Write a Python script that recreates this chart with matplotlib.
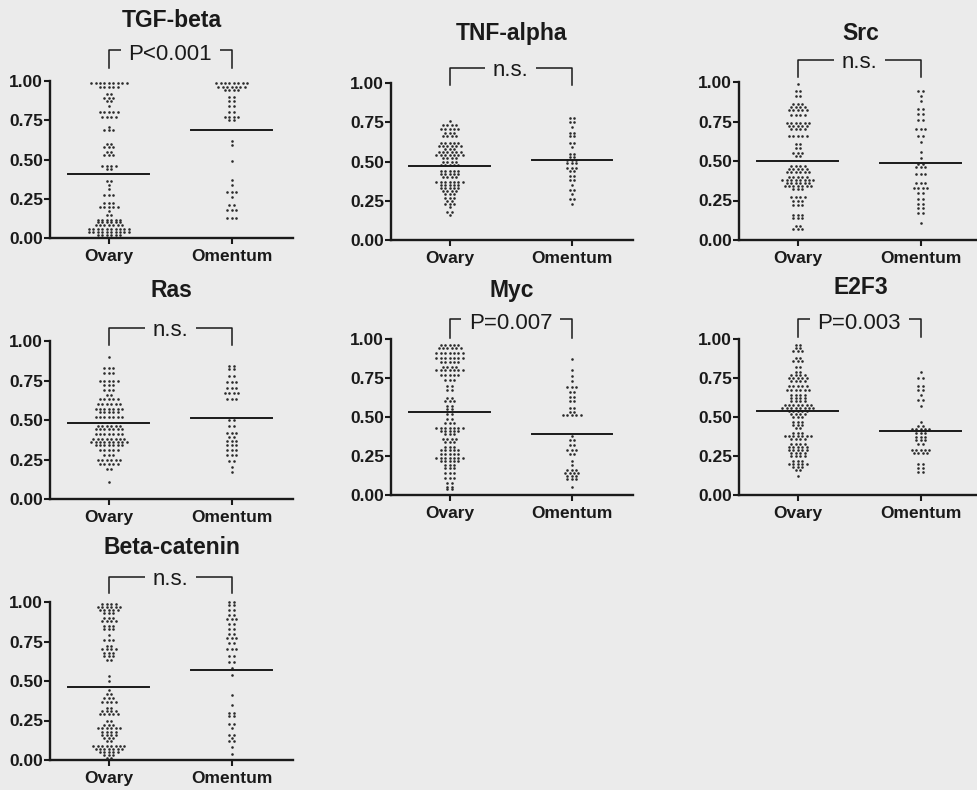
import numpy as np
import matplotlib
matplotlib.use('Agg')
import matplotlib.pyplot as plt

plt.rcParams['font.family'] = ['Liberation Sans', 'DejaVu Sans']

groups = ['Ovary', 'Omentum']
ytick_vals = [0.00, 0.25, 0.50, 0.75, 1.00]

titles = ['TGF-beta', 'TNF-alpha', 'Src', 'Ras', 'Myc', 'E2F3', 'Beta-catenin']
p_labels = ['P<0.001', 'n.s.', 'n.s.', 'n.s.', 'P=0.007', 'P=0.003', 'n.s.']
ovary_means = [0.41, 0.47, 0.50, 0.48, 0.53, 0.54, 0.46]
omentum_means = [0.69, 0.51, 0.49, 0.51, 0.39, 0.41, 0.57]

# each group: dot rows (level, number of dots in that row)
tgf_ov_lv = [0.99, 0.96, 0.92, 0.89, 0.87, 0.84, 0.80, 0.77, 0.71, 0.69, 0.60, 0.58, 0.55, 0.53, 0.46,
             0.44, 0.36, 0.34, 0.31, 0.275, 0.22, 0.20, 0.175, 0.145, 0.115, 0.10, 0.08, 0.06, 0.04, 0.02]
tgf_ov_ct = [9, 5, 2, 3, 2, 1, 5, 4, 1, 3, 2, 3, 2, 3, 4, 2, 2, 1, 1, 3, 3, 5, 1, 2, 6, 6, 7, 10, 10, 6]
tgf_om_lv = [0.99, 0.96, 0.94, 0.90, 0.87, 0.84, 0.80, 0.77, 0.75, 0.62, 0.59, 0.49, 0.37, 0.34, 0.29,
             0.26, 0.21, 0.18, 0.13]
tgf_om_ct = [8, 7, 4, 2, 2, 2, 2, 4, 2, 1, 1, 1, 1, 1, 3, 1, 2, 3, 3]

tnf_ov_lv = [0.76, 0.73, 0.71, 0.68, 0.66, 0.62, 0.60, 0.58, 0.56, 0.54, 0.52, 0.50, 0.48, 0.44, 0.42,
             0.40, 0.37, 0.35, 0.33, 0.31, 0.29, 0.27, 0.25, 0.23, 0.21, 0.18, 0.16]
tnf_ov_ct = [1, 4, 5, 3, 4, 5, 6, 3, 6, 7, 4, 4, 5, 5, 5, 4, 7, 5, 5, 4, 3, 3, 2, 3, 1, 2, 1]
tnf_om_lv = [0.78, 0.75, 0.72, 0.68, 0.66, 0.62, 0.59, 0.55, 0.53, 0.51, 0.49, 0.46, 0.44, 0.41, 0.38,
             0.35, 0.32, 0.29, 0.26, 0.23]
tnf_om_ct = [2, 2, 1, 2, 2, 2, 1, 2, 2, 3, 3, 3, 2, 2, 2, 1, 2, 1, 2, 1]

src_ov_lv = [0.99, 0.94, 0.91, 0.86, 0.84, 0.82, 0.79, 0.74, 0.72, 0.70, 0.66, 0.61, 0.58, 0.55, 0.53,
             0.47, 0.45, 0.43, 0.40, 0.38, 0.36, 0.34, 0.32, 0.27, 0.25, 0.22, 0.16, 0.14, 0.09, 0.07]
src_ov_ct = [1, 2, 2, 3, 4, 5, 4, 6, 5, 4, 5, 2, 2, 3, 2, 4, 5, 6, 5, 8, 6, 7, 3, 4, 3, 3, 3, 3, 2, 3]
src_om_lv = [0.94, 0.91, 0.88, 0.83, 0.80, 0.76, 0.70, 0.66, 0.62, 0.56, 0.52, 0.48, 0.46, 0.42, 0.36,
             0.33, 0.30, 0.26, 0.23, 0.20, 0.17, 0.11]
src_om_ct = [2, 1, 1, 2, 2, 2, 3, 2, 1, 1, 1, 2, 3, 3, 3, 4, 2, 2, 2, 2, 2, 1]

ras_ov_lv = [0.90, 0.83, 0.80, 0.75, 0.72, 0.69, 0.66, 0.63, 0.60, 0.57, 0.55, 0.52, 0.46, 0.44, 0.41,
             0.38, 0.36, 0.34, 0.31, 0.28, 0.25, 0.22, 0.19, 0.11]
ras_ov_ct = [1, 3, 3, 5, 3, 3, 2, 5, 6, 7, 5, 7, 6, 7, 7, 8, 9, 7, 5, 3, 6, 5, 2, 1]
ras_om_lv = [0.84, 0.82, 0.78, 0.74, 0.70, 0.67, 0.63, 0.50, 0.46, 0.42, 0.39, 0.37, 0.34, 0.31, 0.28,
             0.24, 0.20, 0.17]
ras_om_ct = [2, 2, 2, 3, 3, 4, 3, 2, 2, 3, 2, 3, 3, 3, 3, 2, 1, 1]

myc_ov_lv = [0.96, 0.94, 0.91, 0.88, 0.85, 0.82, 0.80, 0.77, 0.74, 0.70, 0.67, 0.62, 0.60, 0.57, 0.55,
             0.52, 0.49, 0.46, 0.43, 0.41, 0.39, 0.36, 0.34, 0.31, 0.29, 0.26, 0.24, 0.22, 0.19, 0.17,
             0.14, 0.11, 0.08, 0.05, 0.04]
myc_ov_ct = [5, 6, 7, 7, 5, 4, 7, 5, 3, 2, 2, 2, 3, 2, 2, 2, 2, 3, 7, 5, 3, 4, 3, 3, 5, 5, 7, 5, 3, 3,
             3, 3, 2, 2, 2]
myc_om_lv = [0.87, 0.80, 0.76, 0.73, 0.69, 0.66, 0.63, 0.60, 0.56, 0.53, 0.51, 0.38, 0.35, 0.32, 0.29,
             0.26, 0.22, 0.19, 0.16, 0.14, 0.12, 0.10, 0.05]
myc_om_ct = [1, 1, 1, 1, 3, 2, 2, 2, 2, 2, 5, 1, 2, 2, 3, 2, 1, 1, 3, 4, 3, 3, 1]

e2f3_ov_lv = [0.96, 0.94, 0.92, 0.88, 0.86, 0.82, 0.79, 0.77, 0.75, 0.73, 0.70, 0.67, 0.64, 0.62, 0.60,
              0.58, 0.56, 0.54, 0.52, 0.50, 0.47, 0.45, 0.43, 0.40, 0.38, 0.36, 0.33, 0.31, 0.29, 0.27,
              0.25, 0.22, 0.20, 0.18, 0.16, 0.12]
e2f3_ov_ct = [2, 2, 3, 2, 3, 2, 2, 4, 5, 4, 5, 6, 4, 4, 4, 7, 8, 5, 4, 3, 3, 3, 2, 3, 7, 4, 4, 5, 5, 4,
              4, 3, 5, 3, 2, 1]
e2f3_om_lv = [0.79, 0.75, 0.70, 0.67, 0.64, 0.61, 0.57, 0.47, 0.44, 0.42, 0.40, 0.37, 0.35, 0.33, 0.29,
              0.27, 0.20, 0.17, 0.15]
e2f3_om_ct = [1, 2, 2, 2, 1, 2, 1, 1, 2, 5, 3, 3, 3, 2, 5, 4, 2, 2, 2]

bcat_ov_lv = [0.99, 0.97, 0.95, 0.93, 0.90, 0.88, 0.85, 0.83, 0.79, 0.76, 0.72, 0.70, 0.68, 0.66, 0.63,
              0.53, 0.50, 0.44, 0.42, 0.39, 0.37, 0.33, 0.31, 0.29, 0.25, 0.22, 0.20, 0.18, 0.16, 0.14,
              0.12, 0.09, 0.07, 0.05, 0.03, 0.01]
bcat_ov_ct = [4, 6, 5, 3, 3, 4, 3, 3, 1, 3, 2, 4, 3, 3, 2, 1, 1, 1, 2, 3, 4, 2, 4, 5, 2, 3, 6, 4, 4, 3,
              2, 8, 7, 5, 3, 2]
bcat_om_lv = [1.00, 0.98, 0.95, 0.92, 0.89, 0.86, 0.83, 0.80, 0.77, 0.74, 0.70, 0.66, 0.62, 0.58, 0.54,
              0.41, 0.35, 0.30, 0.28, 0.23, 0.20, 0.16, 0.14, 0.12, 0.08, 0.04]
bcat_om_ct = [2, 2, 2, 2, 3, 2, 2, 2, 3, 2, 3, 2, 2, 1, 1, 1, 1, 2, 2, 2, 1, 2, 1, 2, 1, 1]

ovary_rows = [(tgf_ov_lv, tgf_ov_ct), (tnf_ov_lv, tnf_ov_ct), (src_ov_lv, src_ov_ct), (ras_ov_lv, ras_ov_ct),
              (myc_ov_lv, myc_ov_ct), (e2f3_ov_lv, e2f3_ov_ct), (bcat_ov_lv, bcat_ov_ct)]
omentum_rows = [(tgf_om_lv, tgf_om_ct), (tnf_om_lv, tnf_om_ct), (src_om_lv, src_om_ct), (ras_om_lv, ras_om_ct),
                (myc_om_lv, myc_om_ct), (e2f3_om_lv, e2f3_om_ct), (bcat_om_lv, bcat_om_ct)]

# layout in pixels: left, top (y=1), bottom (y=0), width
boxes = [(50, 81, 238, 243), (391, 83, 240, 242), (739, 82, 240, 243),
         (50, 341, 499, 243), (391, 339, 495, 242), (739, 339, 495, 243),
         (50, 602, 760, 243)]
bracket_px = [(31, 13), (15, -2), (22, 5), (13, -4), (20, 1), (20, 2), (25, 9)]
title_px = [61, 50, 49, 51, 49, 52, 54]

W, H = 977, 790
bg = '#ebebeb'
ink = '#1a1a1a'
dx = 0.036

fig = plt.figure(figsize=(W / 100, H / 100), dpi=100, facecolor=bg)


def swarm(pos, levels, counts):
    xs, ys = [], []
    for lv, n in zip(levels, counts):
        for k in range(n):
            xs.append(pos + (k - (n - 1) / 2) * dx)
            ys.append(lv)
    return np.array(xs), np.array(ys)


for i in range(len(titles)):
    l, t, b, w = boxes[i]
    h = b - t
    ax = fig.add_axes([l / W, 1 - b / H, w / W, h / H])
    ax.patch.set_alpha(0)
    ax.set_xlim(-0.48, 1.5)
    ax.set_ylim(0, 1)
    for s in ['top', 'right']:
        ax.spines[s].set_visible(False)
    for s in ['left', 'bottom']:
        ax.spines[s].set_linewidth(1.7)
        ax.spines[s].set_color(ink)

    for j, rows in enumerate([ovary_rows[i], omentum_rows[i]]):
        xs, ys = swarm(j, rows[0], rows[1])
        ax.scatter(xs, ys, s=3.5, c='#2a2a2a', linewidths=0, zorder=3, clip_on=False)
    for j, m in enumerate([ovary_means[i], omentum_means[i]]):
        ax.plot([j - 0.33, j + 0.33], [m, m], color=ink, lw=1.4, zorder=4)

    ax.set_xticks([0, 1])
    ax.set_xticklabels(groups)
    ax.set_yticks(ytick_vals)
    ax.set_yticklabels(['%.2f' % v for v in ytick_vals])
    ax.tick_params(axis='y', length=4, width=1.5, pad=1, labelsize=12.5, colors=ink)
    ax.tick_params(axis='x', length=4, width=1.5, pad=4, labelsize=12.5, colors=ink)
    for lab in ax.get_xticklabels() + ax.get_yticklabels():
        lab.set_fontweight('bold')

    # significance bracket
    top = 1 + bracket_px[i][0] / h
    bot = 1 + bracket_px[i][1] / h
    ax.plot([0, 0, 1, 1], [bot, top, top, bot], color=ink, lw=1.1, clip_on=False, zorder=2)
    off = 10 if p_labels[i].startswith('P') else 8
    ax.text(0.5, top - off / h, p_labels[i], ha='center', va='baseline', fontsize=16, color=ink,
            zorder=5, bbox=dict(boxstyle='square,pad=0.35', fc=bg, ec='none'))

    ax.text(0.5, 1 + title_px[i] / h, titles[i], transform=ax.transAxes, ha='center', va='center',
            fontsize=16.5, fontweight='bold', color=ink)

fig.savefig('out.png', dpi=100, facecolor=bg)
